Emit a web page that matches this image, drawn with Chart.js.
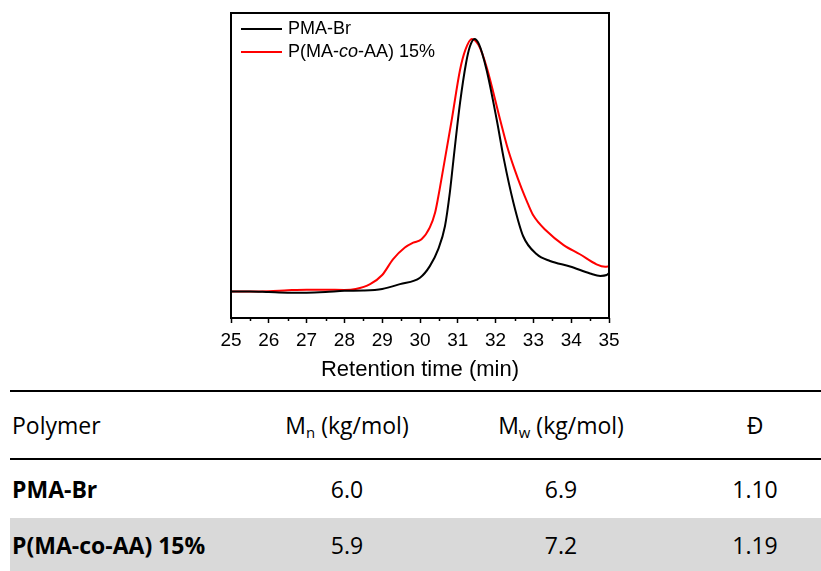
<!DOCTYPE html>
<html>
<head>
<meta charset="utf-8">
<script src="https://cdn.jsdelivr.net/npm/chart.js@4.4.0/dist/chart.umd.min.js"></script>
<style>
  body { margin: 0; background: #fff; }
  #wrap { position: relative; width: 821px; height: 571px; overflow: hidden; }
  #chartBox { position: absolute; left: 0; top: 0; width: 821px; height: 390px; }
  .rule { position: absolute; left: 10px; right: 0; height: 2px; background: #000; }
  .row { position: absolute; left: 10px; right: 0; }
  .cell { position: absolute; top: 50%; transform: translate(-50%, -50%); white-space: nowrap;
          font-family: "Open Sans", sans-serif; font-size: 23px; color: #000; }
  .cell.first { transform: translate(0, -50%); }
  .bold { font-weight: bold; }
  sub { font-size: 65%; vertical-align: -0.25em; line-height: 0; }
</style>
</head>
<body>
<div id="wrap">
  <div id="chartBox"><canvas id="gpcChart"></canvas></div>
  <div id="table"></div>
</div>
<script>
// GPC traces (normalised RI signal vs retention time)
const pmaTimes = [25, 25.5, 26, 26.5, 27, 27.5, 28, 28.5, 29, 29.47, 30, 30.26, 30.48, 30.66, 30.79, 30.88,
  31.06, 31.22, 31.32, 31.44, 31.56, 31.76, 32.03, 32.22, 32.47, 32.73, 33.09, 33.44, 33.97, 34.5, 34.77, 34.94, 35];
const pmaSignal = [8.7, 8.7, 8.5, 8.3, 8.3, 8.5, 8.9, 9.0, 9.5, 11.1, 13.2, 17.0, 22.5, 30.1, 41.2, 51.3,
  70.6, 83.7, 89.0, 91.5, 89.8, 81.4, 65.0, 52.0, 37.9, 26.8, 20.9, 18.7, 16.9, 14.6, 13.8, 14.1, 14.7];

const copolyTimes = [25, 25.5, 26, 26.5, 27, 27.5, 28, 28.3, 28.68, 29, 29.29, 29.6, 29.82, 30.04, 30.26, 30.4,
  30.48, 30.62, 30.84, 31.06, 31.2, 31.37, 31.55, 31.76, 32.12, 32.3, 32.5, 32.69, 32.85, 33.0, 33.35, 33.8,
  34.23, 34.67, 34.9, 35];
const copolySignal = [8.7, 8.7, 8.8, 9.1, 9.3, 9.3, 9.2, 9.5, 11.1, 14.1, 19.3, 23.1, 24.7, 25.8, 29.7, 34.6,
  39.5, 49.3, 65.0, 81.4, 87.9, 91.5, 89.5, 82.4, 65.0, 56.5, 48.8, 42.4, 37.6, 33.6, 28.5, 23.9,
  20.9, 17.6, 16.8, 16.9];

const seriesLabels = ['PMA-Br', 'P(MA-co-AA) 15%'];
const seriesColors = ['#000000', '#ff0000'];

// table values
const tableHeaders = ['Polymer', 'M<sub>n</sub> (kg/mol)', 'M<sub>w</sub> (kg/mol)', 'Đ'];
const polymers = ['PMA-Br', 'P(MA-co-AA) 15%'];
const mnValues = ['6.0', '5.9'];
const mwValues = ['6.9', '7.2'];
const dispersity = ['1.10', '1.19'];

function toPoints(xs, ys) {
  return xs.map(function(x, i) { return { x: x, y: ys[i] }; });
}

// frame around the plot + minor ticks
const framePlugin = {
  id: 'frame',
  afterDraw: function(chart) {
    const ctx = chart.ctx;
    const a = chart.chartArea;
    const xs = chart.scales.x;
    ctx.save();
    ctx.strokeStyle = '#000';
    ctx.lineWidth = 1.5;
    for (let t = 25.5; t < 35; t += 1) {
      const px = Math.round(xs.getPixelForValue(t)) + 0.5;
      ctx.beginPath();
      ctx.moveTo(px, a.bottom);
      ctx.lineTo(px, a.bottom + 3);
      ctx.stroke();
    }
    ctx.lineWidth = 2;
    ctx.strokeRect(a.left, a.top, a.right - a.left, a.bottom - a.top);
    ctx.restore();
  }
};

// legend drawn inside the plot (needs italic "co")
const insideLegend = {
  id: 'insideLegend',
  afterDraw: function(chart) {
    const ctx = chart.ctx;
    const a = chart.chartArea;
    ctx.save();
    chart.data.datasets.forEach(function(ds, i) {
      const y = a.top + 16 + i * 23;
      ctx.strokeStyle = ds.borderColor;
      ctx.lineWidth = 2;
      ctx.beginPath();
      ctx.moveTo(a.left + 10, y);
      ctx.lineTo(a.left + 51, y);
      ctx.stroke();
      ctx.fillStyle = '#000';
      ctx.textBaseline = 'middle';
      let x = a.left + 57;
      const parts = ds.label.split(/(co)/);
      parts.forEach(function(p, j) {
        ctx.font = (j % 2 ? 'italic ' : '') + '18px "Liberation Sans", Arial, sans-serif';
        ctx.fillText(p, x, y);
        x += ctx.measureText(p).width;
      });
    });
    ctx.restore();
  }
};

new Chart(document.getElementById('gpcChart'), {
  type: 'line',
  data: {
    datasets: [{
      label: seriesLabels[0],
      data: toPoints(pmaTimes, pmaSignal),
      borderColor: seriesColors[0],
      borderWidth: 2,
      pointRadius: 0,
      cubicInterpolationMode: 'monotone'
    }, {
      label: seriesLabels[1],
      data: toPoints(copolyTimes, copolySignal),
      borderColor: seriesColors[1],
      borderWidth: 2,
      pointRadius: 0,
      cubicInterpolationMode: 'monotone'
    }]
  },
  options: {
    responsive: true,
    maintainAspectRatio: false,
    animation: false,
    layout: { padding: { left: 231, right: 212, top: 13, bottom: 9 } },
    plugins: { legend: { display: false }, tooltip: { enabled: false } },
    scales: {
      x: {
        type: 'linear',
        min: 25,
        max: 35,
        border: { display: false },
        grid: { drawOnChartArea: false, drawTicks: true, tickLength: 5, tickColor: '#000', tickWidth: 1.5 },
        ticks: {
          stepSize: 1,
          padding: 8,
          color: '#000',
          font: { family: '"Liberation Sans", Arial, sans-serif', size: 19, lineHeight: 1.0 }
        },
        title: {
          display: true,
          text: 'Retention time (min)',
          color: '#000',
          padding: { top: 1, bottom: 0 },
          font: { family: '"Liberation Sans", Arial, sans-serif', size: 22, lineHeight: 1.0 }
        }
      },
      y: { display: false, min: 0, max: 100 }
    }
  },
  plugins: [framePlugin, insideLegend]
});

// table under the chart
(function buildTable() {
  const wrap = document.getElementById('table');
  const colX = [2, 337, 551, 745]; // relative to row left (10px)
  function addRule(top) {
    const r = document.createElement('div');
    r.className = 'rule';
    r.style.top = top + 'px';
    wrap.appendChild(r);
  }
  function addRow(top, height, cells, bold, bg) {
    const row = document.createElement('div');
    row.className = 'row';
    row.style.top = top + 'px';
    row.style.height = height + 'px';
    if (bg) row.style.background = bg;
    cells.forEach(function(c, i) {
      const d = document.createElement('div');
      d.className = 'cell' + (i === 0 ? ' first' : '') + (i === 0 && bold ? ' bold' : '');
      d.style.left = colX[i] + 'px';
      d.innerHTML = c;
      row.appendChild(d);
    });
    wrap.appendChild(row);
  }
  addRule(390);
  addRow(392, 66, tableHeaders, false);
  addRule(458);
  addRow(460, 58, [polymers[0], mnValues[0], mwValues[0], dispersity[0]], true);
  addRow(518, 53, [polymers[1], mnValues[1], mwValues[1], dispersity[1]], true, '#d9d9d9');
})();
</script>
</body>
</html>
